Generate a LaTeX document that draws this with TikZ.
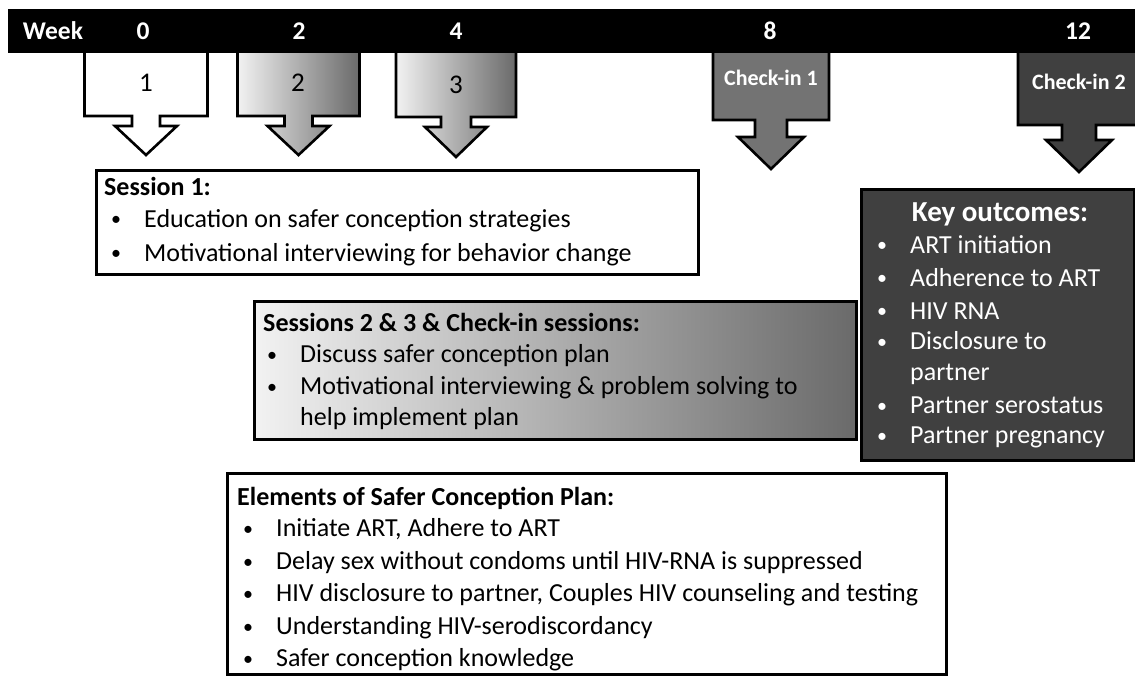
\documentclass[tikz,border=0pt]{standalone}
\usepackage{fontspec}
\setmainfont{Carlito}
\definecolor{midgray}{HTML}{737373}
\definecolor{darkgray}{HTML}{404040}
\definecolor{lightgr}{HTML}{F2F2F2}
\definecolor{gradgr}{HTML}{6A6A6A}
\newcommand\calloutarrow[8]{%
  \draw[#8] ({#1-#2},48) -- ({#1-#2},#3) -- ({#1-#7},#3) -- ({#1-#7},#4) -- ({#1-#6},#4) -- (#1,#5) -- ({#1+#6},#4) -- ({#1+#7},#4) -- ({#1+#7},#3) -- ({#1+#2},#3) -- ({#1+#2},48) -- cycle;}
\tikzset{
  frame/.style={draw=black, line width=3pt, inner sep=0pt, anchor=north west},
  arrowout/.style={draw=black, line width=2.6pt, line join=miter},
  bartext/.style={text=white, font=\fontsize{25.5}{30}\selectfont\bfseries, inner sep=0pt, anchor=base},
  numtext/.style={font=\fontsize{27}{31}\selectfont, inner sep=0pt, anchor=base},
  checktext/.style={text=white, font=\fontsize{22}{26}\selectfont\bfseries, inner sep=0pt, anchor=base},
  txt/.style={anchor=base west, inner sep=0pt, font=\fontsize{26}{31}\selectfont},
  bul/.style={anchor=base west, inner sep=0pt, font=\fontsize{26}{31}\selectfont},
}
\newcommand\bl[1]{\makebox[36pt][l]{\hspace*{3pt}\raisebox{1.5pt}{\fontsize{20}{20}\selectfont•}}#1}
\begin{document}
\begin{tikzpicture}[x=1pt,y=-1pt]
\useasboundingbox (0,0) rectangle (1135,676);
% arrows
\calloutarrow{146}{61.5}{116}{126}{155}{31}{14}{arrowout, fill=white}
\calloutarrow{298.5}{61}{116}{126}{155}{31}{14}{arrowout, left color=lightgr, right color=gradgr}
\calloutarrow{456}{60}{117}{127}{157}{31}{15}{arrowout, left color=lightgr, right color=gradgr}
\calloutarrow{771}{58}{120}{137}{169}{33}{16}{arrowout, fill=midgray}
\calloutarrow{1079}{61}{125}{140}{172}{33}{17}{arrowout, fill=darkgray}
% bar
\fill[black] (8,9) rectangle (1140,53);
\node[bartext] (week) at (53,40) {Week};
\node[bartext] (w0) at (143,40) {0};
\node[bartext] (w2) at (299,40) {2};
\node[bartext] (w4) at (456,40) {4};
\node[bartext] (w8) at (770,40) {8};
\node[bartext] (w12) at (1078,40) {12};
\node[numtext] (n1) at (146,92) {1};
\node[numtext] (n2) at (298,92) {2};
\node[numtext] (n3) at (456,94) {3};
\node[checktext] (c1) at (771,86) {Check-in 1};
\node[checktext] (c2) at (1079,90) {Check-in 2};
% Session 1
\node[frame, fill=white, minimum width=602pt, minimum height=104pt] (s1box) at (95,169) {};
\node[txt] (s1t) at (104,195.5) {\bfseries Session 1:};
\node[bul] (s1a) at (108,227.5) {\bl{Education on safer conception strategies}};
\node[bul] (s1b) at (108,261.5) {\bl{Motivational interviewing for behavior change}};
% Sessions 2 & 3
\node[frame, left color=lightgr, right color=gradgr, minimum width=602pt, minimum height=138pt] (s2box) at (253,300) {};
\node[txt] (s2t) at (263,331.5) {\bfseries Sessions 2 \& 3 \& Check-in sessions:};
\node[bul] (s2a) at (264,362.5) {\bl{Discuss safer conception plan}};
\node[bul] (s2b) at (264,394.5) {\bl{Motivational interviewing \& problem solving to}};
\node[txt] (s2c) at (300,425.5) {help implement plan};
% Key outcomes
\node[frame, fill=darkgray, minimum width=273pt, minimum height=271pt] (kbox) at (860,188) {};
\node[txt, anchor=base, text=white, font=\fontsize{29}{34}\selectfont\bfseries] (kt) at (1000,222) {Key outcomes:};
\begin{scope}[every node/.append style={text=white}]
\node[bul] (k1) at (874,253.5) {\bl{ART initiation}};
\node[bul] (k2) at (874,286.5) {\bl{Adherence to ART}};
\node[bul] (k3) at (874,319.5) {\bl{HIV RNA}};
\node[bul] (k4) at (874,349.5) {\bl{Disclosure to}};
\node[txt] (k5) at (910,380.5) {partner};
\node[bul] (k6) at (874,413.5) {\bl{Partner serostatus}};
\node[bul] (k7) at (874,443.5) {\bl{Partner pregnancy}};
\end{scope}
% Elements
\node[frame, fill=white, minimum width=719pt, minimum height=201pt] (ebox) at (226,472) {};
\node[txt] (et) at (237,505.5) {\bfseries Elements of Safer Conception Plan:};
\node[bul] (e1) at (240,536.5) {\bl{Initiate ART, Adhere to ART}};
\node[bul] (e2) at (240,569.5) {\bl{Delay sex without condoms until HIV-RNA is suppressed}};
\node[bul] (e3) at (240,601.5) {\bl{HIV disclosure to partner, Couples HIV counseling and testing}};
\node[bul] (e4) at (240,634.5) {\bl{Understanding HIV-serodiscordancy}};
\node[bul] (e5) at (240,666.5) {\bl{Safer conception knowledge}};
\end{tikzpicture}
\end{document}
